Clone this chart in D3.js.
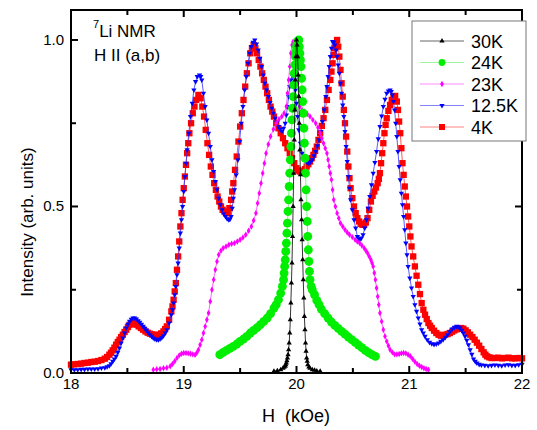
<!DOCTYPE html>
<html>
<head>
<meta charset="utf-8">
<script src="https://cdn.jsdelivr.net/npm/d3@7"></script>
<style>
  body { margin: 0; background: #fff; }
  text { font-family: "Liberation Sans", Arial, sans-serif; }
</style>
</head>
<body>
<svg id="nmr" width="537" height="430"></svg>
<script>
// field H (kOe), intensity (arb. units)
const spectrum30K = [
  [19.80, 0.005], [19.83, 0.007], [19.86, 0.01], [19.88, 0.014], [19.89, 0.017],
  [19.90, 0.02], [19.905, 0.025], [19.91, 0.03], [19.915, 0.037], [19.92, 0.045],
  [19.925, 0.055], [19.93, 0.07], [19.935, 0.09], [19.94, 0.12], [19.945, 0.16],
  [19.95, 0.21], [19.955, 0.27], [19.96, 0.33], [19.965, 0.41], [19.97, 0.5],
  [19.975, 0.6], [19.98, 0.7], [19.985, 0.79], [19.99, 0.88], [19.995, 0.95],
  [20.00, 1.0], [20.005, 0.985], [20.01, 0.95], [20.015, 0.895], [20.02, 0.83],
  [20.025, 0.75], [20.03, 0.67], [20.035, 0.595], [20.04, 0.52], [20.045, 0.46],
  [20.05, 0.4], [20.055, 0.34], [20.06, 0.28], [20.065, 0.225], [20.07, 0.17],
  [20.075, 0.13], [20.08, 0.09], [20.085, 0.065], [20.09, 0.045], [20.095, 0.035],
  [20.10, 0.025], [20.11, 0.018], [20.12, 0.014], [20.14, 0.01], [20.16, 0.008],
  [20.18, 0.006], [20.21, 0.005]
];

const spectrum24K = [
  [19.32, 0.055], [19.35, 0.062], [19.38, 0.068], [19.41, 0.074], [19.44, 0.08],
  [19.47, 0.087], [19.50, 0.095], [19.53, 0.102], [19.56, 0.11], [19.59, 0.12],
  [19.62, 0.128], [19.65, 0.136], [19.68, 0.145], [19.71, 0.155], [19.74, 0.165],
  [19.77, 0.178], [19.80, 0.195], [19.82, 0.205], [19.84, 0.22], [19.86, 0.24],
  [19.875, 0.26], [19.885, 0.28], [19.89, 0.3], [19.895, 0.32], [19.90, 0.34],
  [19.905, 0.365], [19.91, 0.39], [19.915, 0.42], [19.92, 0.45], [19.925, 0.485],
  [19.93, 0.52], [19.935, 0.56], [19.94, 0.6], [19.945, 0.64], [19.95, 0.68],
  [19.955, 0.72], [19.96, 0.76], [19.965, 0.795], [19.97, 0.83], [19.975, 0.865],
  [19.98, 0.9], [19.985, 0.925], [19.99, 0.95], [19.995, 0.965], [20.00, 0.98],
  [20.005, 0.99], [20.01, 0.995], [20.015, 0.998], [20.02, 1.0], [20.025, 0.98],
  [20.03, 0.96], [20.035, 0.94], [20.04, 0.92], [20.045, 0.885], [20.05, 0.85],
  [20.055, 0.815], [20.06, 0.78], [20.065, 0.735], [20.07, 0.69], [20.075, 0.645],
  [20.08, 0.6], [20.085, 0.55], [20.09, 0.5], [20.095, 0.455], [20.10, 0.41],
  [20.105, 0.37], [20.11, 0.335], [20.115, 0.305], [20.12, 0.28], [20.13, 0.26],
  [20.14, 0.25], [20.16, 0.235], [20.18, 0.218], [20.20, 0.205], [20.22, 0.192],
  [20.25, 0.178], [20.28, 0.165], [20.31, 0.153], [20.34, 0.143], [20.37, 0.134],
  [20.40, 0.125], [20.43, 0.117], [20.46, 0.108], [20.49, 0.1], [20.52, 0.092],
  [20.55, 0.084], [20.58, 0.076], [20.61, 0.068], [20.64, 0.061], [20.67, 0.055],
  [20.70, 0.05]
];

const spectrum23K = [
  [18.73, 0.01], [18.76, 0.011], [18.79, 0.012], [18.82, 0.014], [18.85, 0.016],
  [18.88, 0.02], [18.90, 0.027], [18.92, 0.035], [18.94, 0.045], [18.96, 0.053],
  [18.98, 0.058], [19.00, 0.06], [19.02, 0.06], [19.04, 0.059], [19.06, 0.058],
  [19.08, 0.056], [19.10, 0.055], [19.115, 0.06], [19.13, 0.07], [19.145, 0.085],
  [19.16, 0.1], [19.175, 0.12], [19.19, 0.14], [19.205, 0.16], [19.22, 0.18],
  [19.235, 0.215], [19.25, 0.25], [19.265, 0.28], [19.28, 0.31], [19.295, 0.335],
  [19.31, 0.355], [19.33, 0.367], [19.35, 0.375], [19.375, 0.38], [19.40, 0.385],
  [19.425, 0.388], [19.45, 0.39], [19.475, 0.395], [19.50, 0.4], [19.525, 0.407],
  [19.55, 0.415], [19.575, 0.427], [19.60, 0.44], [19.62, 0.458], [19.64, 0.48],
  [19.655, 0.51], [19.67, 0.54], [19.685, 0.57], [19.70, 0.6], [19.715, 0.63],
  [19.73, 0.66], [19.75, 0.687], [19.77, 0.71], [19.795, 0.732], [19.82, 0.75],
  [19.845, 0.762], [19.87, 0.77], [19.89, 0.78], [19.91, 0.8], [19.92, 0.84],
  [19.93, 0.88], [19.94, 0.92], [19.95, 0.96], [19.96, 0.985], [19.97, 0.995],
  [19.98, 0.985], [19.99, 0.96], [20.00, 0.92], [20.01, 0.87], [20.02, 0.83],
  [20.03, 0.8], [20.05, 0.79], [20.07, 0.785], [20.095, 0.778], [20.12, 0.77],
  [20.145, 0.76], [20.17, 0.75], [20.19, 0.737], [20.21, 0.72], [20.225, 0.705],
  [20.24, 0.69], [20.255, 0.675], [20.27, 0.66], [20.28, 0.64], [20.29, 0.62],
  [20.30, 0.6], [20.31, 0.58], [20.32, 0.55], [20.33, 0.52], [20.345, 0.5],
  [20.36, 0.48], [20.375, 0.465], [20.39, 0.45], [20.41, 0.44], [20.43, 0.43],
  [20.45, 0.422], [20.47, 0.415], [20.495, 0.408], [20.52, 0.4], [20.54, 0.395],
  [20.56, 0.39], [20.58, 0.383], [20.60, 0.375], [20.615, 0.368], [20.63, 0.36],
  [20.645, 0.35], [20.66, 0.34], [20.67, 0.33], [20.68, 0.32], [20.69, 0.3],
  [20.70, 0.28], [20.71, 0.255], [20.72, 0.23], [20.73, 0.205], [20.74, 0.18],
  [20.755, 0.155], [20.77, 0.13], [20.785, 0.11], [20.80, 0.095], [20.815, 0.082],
  [20.83, 0.07], [20.85, 0.062], [20.87, 0.056], [20.89, 0.056], [20.91, 0.057],
  [20.93, 0.059], [20.95, 0.06], [20.97, 0.059], [20.99, 0.055], [21.01, 0.05],
  [21.03, 0.042], [21.05, 0.034], [21.07, 0.027], [21.09, 0.022], [21.11, 0.018],
  [21.13, 0.014], [21.15, 0.012], [21.17, 0.01]
];

const spectrum12K = [
  [18.00, 0.01], [18.03, 0.01], [18.06, 0.01], [18.09, 0.011], [18.12, 0.011],
  [18.15, 0.012], [18.18, 0.012], [18.21, 0.012], [18.24, 0.013], [18.27, 0.015],
  [18.30, 0.016], [18.32, 0.019], [18.34, 0.022], [18.355, 0.028], [18.37, 0.035],
  [18.385, 0.042], [18.40, 0.05], [18.415, 0.062], [18.43, 0.075], [18.445, 0.09],
  [18.46, 0.105], [18.475, 0.12], [18.49, 0.135], [18.505, 0.146], [18.52, 0.155],
  [18.535, 0.161], [18.55, 0.165], [18.565, 0.165], [18.58, 0.162], [18.595, 0.157],
  [18.61, 0.152], [18.625, 0.146], [18.64, 0.14], [18.655, 0.134], [18.67, 0.128],
  [18.685, 0.121], [18.70, 0.115], [18.715, 0.11], [18.73, 0.105], [18.745, 0.102],
  [18.76, 0.1], [18.775, 0.1], [18.79, 0.102], [18.805, 0.106], [18.82, 0.112],
  [18.835, 0.12], [18.85, 0.13], [18.87, 0.15], [18.89, 0.175], [18.90, 0.19],
  [18.91, 0.21], [18.92, 0.235], [18.93, 0.26], [18.94, 0.295], [18.95, 0.33],
  [18.96, 0.375], [18.97, 0.42], [18.98, 0.46], [18.99, 0.5], [19.00, 0.545],
  [19.01, 0.59], [19.02, 0.63], [19.03, 0.67], [19.045, 0.72], [19.06, 0.77],
  [19.075, 0.81], [19.09, 0.85], [19.105, 0.875], [19.12, 0.89], [19.14, 0.895],
  [19.15, 0.89], [19.16, 0.88], [19.175, 0.84], [19.19, 0.8], [19.205, 0.76],
  [19.22, 0.72], [19.235, 0.68], [19.25, 0.64], [19.265, 0.605], [19.28, 0.575],
  [19.295, 0.55], [19.31, 0.525], [19.325, 0.505], [19.34, 0.49], [19.355, 0.478],
  [19.37, 0.47], [19.385, 0.463], [19.40, 0.46], [19.41, 0.462], [19.42, 0.47],
  [19.43, 0.495], [19.44, 0.525], [19.45, 0.55], [19.465, 0.595], [19.48, 0.64],
  [19.495, 0.695], [19.51, 0.75], [19.525, 0.8], [19.54, 0.85], [19.555, 0.89],
  [19.57, 0.93], [19.585, 0.96], [19.60, 0.98], [19.615, 0.993], [19.63, 1.0],
  [19.645, 0.988], [19.66, 0.97], [19.675, 0.945], [19.69, 0.92], [19.705, 0.895],
  [19.72, 0.87], [19.735, 0.85], [19.75, 0.83], [19.765, 0.812], [19.78, 0.795],
  [19.795, 0.78], [19.81, 0.765], [19.825, 0.752], [19.84, 0.74], [19.855, 0.732],
  [19.87, 0.725], [19.885, 0.735], [19.90, 0.75], [19.91, 0.775], [19.92, 0.8],
  [19.93, 0.83], [19.94, 0.86], [19.95, 0.88], [19.96, 0.895], [19.97, 0.893],
  [19.98, 0.88], [19.99, 0.85], [20.00, 0.81], [20.01, 0.77], [20.02, 0.73],
  [20.035, 0.69], [20.05, 0.66], [20.065, 0.645], [20.08, 0.635], [20.095, 0.632],
  [20.11, 0.63], [20.125, 0.634], [20.14, 0.64], [20.155, 0.652], [20.17, 0.665],
  [20.185, 0.682], [20.20, 0.7], [20.215, 0.725], [20.23, 0.755], [20.245, 0.79],
  [20.26, 0.83], [20.27, 0.86], [20.28, 0.89], [20.29, 0.92], [20.30, 0.95],
  [20.31, 0.975], [20.32, 0.995], [20.33, 0.993], [20.34, 0.985], [20.35, 0.97],
  [20.36, 0.95], [20.37, 0.925], [20.38, 0.9], [20.39, 0.87], [20.40, 0.84],
  [20.41, 0.805], [20.42, 0.77], [20.43, 0.725], [20.44, 0.68], [20.45, 0.635],
  [20.46, 0.59], [20.47, 0.555], [20.48, 0.52], [20.495, 0.49], [20.51, 0.46],
  [20.525, 0.435], [20.54, 0.41], [20.55, 0.403], [20.56, 0.4], [20.575, 0.405],
  [20.59, 0.415], [20.605, 0.435], [20.62, 0.46], [20.635, 0.495], [20.65, 0.53],
  [20.665, 0.565], [20.68, 0.6], [20.695, 0.632], [20.71, 0.665], [20.725, 0.703],
  [20.74, 0.74], [20.755, 0.772], [20.77, 0.8], [20.785, 0.822], [20.80, 0.84],
  [20.815, 0.847], [20.83, 0.85], [20.84, 0.845], [20.85, 0.835], [20.86, 0.815],
  [20.87, 0.79], [20.88, 0.75], [20.89, 0.71], [20.90, 0.665], [20.91, 0.62],
  [20.92, 0.58], [20.93, 0.54], [20.94, 0.505], [20.95, 0.47], [20.96, 0.43],
  [20.97, 0.39], [20.98, 0.355], [20.99, 0.32], [21.005, 0.285], [21.02, 0.255],
  [21.035, 0.23], [21.05, 0.205], [21.065, 0.185], [21.08, 0.165], [21.095, 0.147],
  [21.11, 0.13], [21.125, 0.12], [21.14, 0.11], [21.16, 0.1], [21.18, 0.092],
  [21.20, 0.088], [21.22, 0.086], [21.24, 0.087], [21.26, 0.09], [21.28, 0.095],
  [21.30, 0.1], [21.32, 0.107], [21.34, 0.115], [21.36, 0.124], [21.38, 0.132],
  [21.40, 0.137], [21.42, 0.14], [21.435, 0.138], [21.45, 0.135], [21.465, 0.128],
  [21.48, 0.12], [21.495, 0.11], [21.51, 0.098], [21.525, 0.085], [21.54, 0.07],
  [21.555, 0.056], [21.57, 0.042], [21.585, 0.035], [21.60, 0.03], [21.62, 0.026],
  [21.64, 0.024], [21.67, 0.023], [21.70, 0.022], [21.73, 0.023], [21.76, 0.024],
  [21.79, 0.023], [21.82, 0.022], [21.85, 0.024], [21.88, 0.025], [21.91, 0.023],
  [21.94, 0.023], [21.97, 0.025], [22.00, 0.026]
];

const spectrum4K = [
  [18.00, 0.025], [18.03, 0.026], [18.06, 0.027], [18.09, 0.028], [18.12, 0.03],
  [18.15, 0.031], [18.18, 0.033], [18.21, 0.034], [18.24, 0.036], [18.27, 0.039],
  [18.30, 0.043], [18.32, 0.048], [18.34, 0.055], [18.355, 0.061], [18.37, 0.068],
  [18.385, 0.076], [18.40, 0.085], [18.415, 0.093], [18.43, 0.1], [18.445, 0.108],
  [18.46, 0.115], [18.475, 0.123], [18.49, 0.13], [18.505, 0.138], [18.52, 0.145],
  [18.535, 0.148], [18.55, 0.15], [18.565, 0.149], [18.58, 0.145], [18.60, 0.14],
  [18.62, 0.135], [18.64, 0.13], [18.66, 0.125], [18.68, 0.121], [18.70, 0.118],
  [18.72, 0.116], [18.74, 0.114], [18.76, 0.114], [18.78, 0.115], [18.80, 0.119],
  [18.82, 0.125], [18.835, 0.132], [18.85, 0.14], [18.87, 0.16], [18.89, 0.185],
  [18.90, 0.2], [18.91, 0.22], [18.92, 0.245], [18.93, 0.27], [18.94, 0.31],
  [18.95, 0.35], [18.96, 0.395], [18.97, 0.44], [18.98, 0.48], [18.99, 0.52],
  [19.00, 0.555], [19.01, 0.59], [19.02, 0.625], [19.03, 0.66], [19.04, 0.69],
  [19.05, 0.72], [19.065, 0.75], [19.08, 0.78], [19.095, 0.8], [19.11, 0.82],
  [19.13, 0.835], [19.15, 0.825], [19.165, 0.8], [19.18, 0.77], [19.195, 0.73],
  [19.21, 0.69], [19.225, 0.655], [19.24, 0.62], [19.255, 0.595], [19.27, 0.57],
  [19.285, 0.55], [19.30, 0.53], [19.315, 0.515], [19.33, 0.5], [19.345, 0.49],
  [19.36, 0.485], [19.375, 0.48], [19.39, 0.48], [19.405, 0.495], [19.42, 0.52],
  [19.43, 0.545], [19.44, 0.57], [19.455, 0.61], [19.47, 0.65], [19.485, 0.695],
  [19.50, 0.74], [19.515, 0.78], [19.53, 0.82], [19.545, 0.86], [19.56, 0.9],
  [19.575, 0.93], [19.59, 0.96], [19.605, 0.975], [19.62, 0.985], [19.635, 0.975],
  [19.65, 0.96], [19.665, 0.94], [19.68, 0.92], [19.695, 0.9], [19.71, 0.88],
  [19.725, 0.86], [19.74, 0.84], [19.755, 0.82], [19.77, 0.8], [19.785, 0.785],
  [19.80, 0.77], [19.82, 0.75], [19.84, 0.735], [19.86, 0.72], [19.88, 0.705],
  [19.90, 0.69], [19.92, 0.675], [19.94, 0.66], [19.96, 0.645], [19.98, 0.63],
  [20.00, 0.615], [20.015, 0.608], [20.03, 0.605], [20.045, 0.605], [20.06, 0.607],
  [20.075, 0.612], [20.09, 0.62], [20.105, 0.627], [20.12, 0.635], [20.135, 0.645],
  [20.15, 0.655], [20.165, 0.667], [20.18, 0.68], [20.195, 0.7], [20.21, 0.72],
  [20.225, 0.742], [20.24, 0.765], [20.255, 0.79], [20.27, 0.82], [20.285, 0.85],
  [20.30, 0.88], [20.31, 0.905], [20.32, 0.93], [20.33, 0.955], [20.34, 0.975],
  [20.35, 0.99], [20.36, 1.0], [20.37, 0.98], [20.38, 0.95], [20.39, 0.91],
  [20.40, 0.87], [20.41, 0.83], [20.42, 0.79], [20.43, 0.75], [20.44, 0.71],
  [20.45, 0.665], [20.46, 0.62], [20.47, 0.585], [20.48, 0.555], [20.495, 0.525],
  [20.51, 0.5], [20.525, 0.48], [20.54, 0.465], [20.555, 0.455], [20.57, 0.448],
  [20.585, 0.445], [20.60, 0.445], [20.615, 0.452], [20.63, 0.465], [20.645, 0.49],
  [20.66, 0.515], [20.675, 0.532], [20.69, 0.545], [20.705, 0.557], [20.72, 0.57],
  [20.73, 0.583], [20.74, 0.6], [20.75, 0.63], [20.76, 0.66], [20.77, 0.69],
  [20.78, 0.72], [20.79, 0.745], [20.80, 0.765], [20.815, 0.787], [20.83, 0.805],
  [20.845, 0.82], [20.86, 0.83], [20.875, 0.832], [20.89, 0.815], [20.90, 0.79],
  [20.91, 0.755], [20.92, 0.72], [20.93, 0.675], [20.94, 0.63], [20.95, 0.595],
  [20.96, 0.56], [20.97, 0.53], [20.98, 0.5], [20.99, 0.47], [21.00, 0.44],
  [21.01, 0.41], [21.02, 0.38], [21.035, 0.35], [21.05, 0.32], [21.065, 0.292],
  [21.08, 0.265], [21.095, 0.237], [21.11, 0.21], [21.125, 0.19], [21.14, 0.175],
  [21.155, 0.162], [21.17, 0.15], [21.185, 0.142], [21.20, 0.135], [21.22, 0.127],
  [21.24, 0.12], [21.26, 0.115], [21.28, 0.112], [21.30, 0.113], [21.32, 0.115],
  [21.34, 0.117], [21.36, 0.12], [21.38, 0.124], [21.40, 0.128], [21.42, 0.131],
  [21.44, 0.133], [21.46, 0.135], [21.48, 0.133], [21.50, 0.128], [21.52, 0.122],
  [21.54, 0.115], [21.56, 0.108], [21.58, 0.1], [21.60, 0.091], [21.62, 0.082],
  [21.64, 0.072], [21.66, 0.062], [21.675, 0.055], [21.69, 0.05], [21.71, 0.047],
  [21.73, 0.045], [21.76, 0.045], [21.79, 0.046], [21.82, 0.044], [21.85, 0.045],
  [21.88, 0.046], [21.91, 0.044], [21.94, 0.044], [21.97, 0.045], [22.00, 0.044]
];

const seriesLabels = ["30K", "24K", "23K", "12.5K", "4K"];
const xMajorTicks = [18, 19, 20, 21, 22];
const xMinorTicks = [18.5, 19.5, 20.5, 21.5];
const yMajorTicks = [0, 0.5, 1.0];
const yMinorTicks = [0.25, 0.75];

/**
 * Draws the whole figure.
 */
function setup() {
  var svg = d3.select("#nmr");
  var left = 71, right = 522, top = 10, bottom = 373;

  var xScale = d3.scaleLinear().domain([18, 22]).range([left, right]);
  var yScale = d3.scaleLinear().domain([0, 1.09]).range([bottom, top]);

  var series = [
    { label: "4K", data: spectrum4K, color: "#ff0000", line: "#ff3030", symbol: d3.symbolSquare, size: 40, rotate: 0 },
    { label: "12.5K", data: spectrum12K, color: "#0000ff", line: "#3030ff", symbol: d3.symbolTriangle, size: 12, rotate: 180 },
    { label: "23K", data: spectrum23K, color: "#ff00ff", line: "#ff40ff", symbol: d3.symbolDiamond, size: 12, rotate: 0 },
    { label: "24K", data: spectrum24K, color: "#00ee00", line: "#60f060", symbol: d3.symbolCircle, size: 62, rotate: 0 },
    { label: "30K", data: spectrum30K, color: "#000000", line: "#000000", symbol: d3.symbolTriangle, size: 12, rotate: 0 }
  ];

  var line = d3.line()
    .x(function(d) { return xScale(d[0]); })
    .y(function(d) { return yScale(d[1]); });

  series.forEach(function(s) {
    var g = svg.append("g").attr("class", "series");
    g.append("path")
      .datum(s.data)
      .attr("fill", "none")
      .attr("stroke", s.line)
      .attr("stroke-width", 0.8)
      .attr("d", line);
    g.selectAll(".pt")
      .data(s.data)
      .enter().append("path")
      .attr("class", "pt")
      .attr("fill", s.color)
      .attr("d", d3.symbol().type(s.symbol).size(s.size))
      .attr("transform", function(d) {
        return "translate(" + xScale(d[0]) + "," + yScale(d[1]) + ") rotate(" + s.rotate + ")";
      });
  });

  drawFrame(svg, xScale, yScale, left, right, top, bottom);
  drawLegend(svg, series);
  drawLabels(svg);
}

/**
 * Box with inward ticks on all four sides, labels bottom and left.
 */
function drawFrame(svg, xScale, yScale, left, right, top, bottom) {
  var g = svg.append("g").attr("class", "frame");
  g.append("rect")
    .attr("x", left).attr("y", top)
    .attr("width", right - left).attr("height", bottom - top)
    .attr("fill", "none").attr("stroke", "#000").attr("stroke-width", 2);

  function xTicks(values, len) {
    values.forEach(function(v) {
      var x = xScale(v);
      g.append("line").attr("x1", x).attr("x2", x).attr("y1", bottom).attr("y2", bottom - len)
        .attr("stroke", "#000").attr("stroke-width", 2);
      g.append("line").attr("x1", x).attr("x2", x).attr("y1", top).attr("y2", top + len)
        .attr("stroke", "#000").attr("stroke-width", 2);
    });
  }
  function yTicks(values, len) {
    values.forEach(function(v) {
      var y = yScale(v);
      g.append("line").attr("x1", left).attr("x2", left + len).attr("y1", y).attr("y2", y)
        .attr("stroke", "#000").attr("stroke-width", 2);
      g.append("line").attr("x1", right).attr("x2", right - len).attr("y1", y).attr("y2", y)
        .attr("stroke", "#000").attr("stroke-width", 2);
    });
  }
  xTicks(xMajorTicks, 7);
  xTicks(xMinorTicks, 5);
  yTicks(yMajorTicks, 7);
  yTicks(yMinorTicks, 5);

  g.selectAll(".xl")
    .data(xMajorTicks)
    .enter().append("text")
    .attr("x", function(d) { return xScale(d); })
    .attr("y", bottom + 16)
    .attr("text-anchor", "middle")
    .style("font-size", "15px")
    .text(function(d) { return d; });

  g.selectAll(".yl")
    .data(yMajorTicks)
    .enter().append("text")
    .attr("x", left - 7)
    .attr("y", function(d) { return yScale(d) + 5; })
    .attr("text-anchor", "end")
    .style("font-size", "15px")
    .text(function(d) { return d3.format(".1f")(d); });
}

/**
 * Legend box in the upper right corner.
 */
function drawLegend(svg, series) {
  var g = svg.append("g").attr("class", "legend");
  g.append("rect")
    .attr("x", 412).attr("y", 21).attr("width", 114).attr("height", 120)
    .attr("fill", "#fff").attr("stroke", "#777").attr("stroke-width", 1);

  seriesLabels.forEach(function(label, i) {
    var s = series.find(function(d) { return d.label == label; });
    var y = 41 + i * 21.5;
    g.append("line")
      .attr("x1", 420).attr("x2", 464).attr("y1", y).attr("y2", y)
      .attr("stroke", s.line).attr("stroke-opacity", 0.6).attr("stroke-width", 1);
    g.append("path")
      .attr("fill", s.color)
      .attr("d", d3.symbol().type(s.symbol).size(Math.min(s.size, 36)))
      .attr("transform", "translate(442," + y + ") rotate(" + s.rotate + ")");
    g.append("text")
      .attr("x", 471).attr("y", y + 6.5)
      .style("font-size", "18px")
      .text(label);
  });
}

/**
 * Axis titles and the sample annotation.
 */
function drawLabels(svg) {
  svg.append("text")
    .attr("x", 296).attr("y", 422)
    .attr("text-anchor", "middle")
    .style("font-size", "18px")
    .style("white-space", "pre")
    .text("H  (kOe)");

  svg.append("text")
    .attr("transform", "translate(33,222) rotate(-90)")
    .attr("text-anchor", "middle")
    .style("font-size", "17px")
    .text("Intensity (arb. units)");

  var note = svg.append("text").attr("x", 93).attr("y", 37).style("font-size", "17px");
  note.append("tspan").attr("dy", -9).style("font-size", "11px").text("7");
  note.append("tspan").attr("dy", 9).text("Li NMR");

  svg.append("text")
    .attr("x", 94).attr("y", 61)
    .style("font-size", "17px")
    .text("H II (a,b)");
}

setup();
</script>
</body>
</html>
